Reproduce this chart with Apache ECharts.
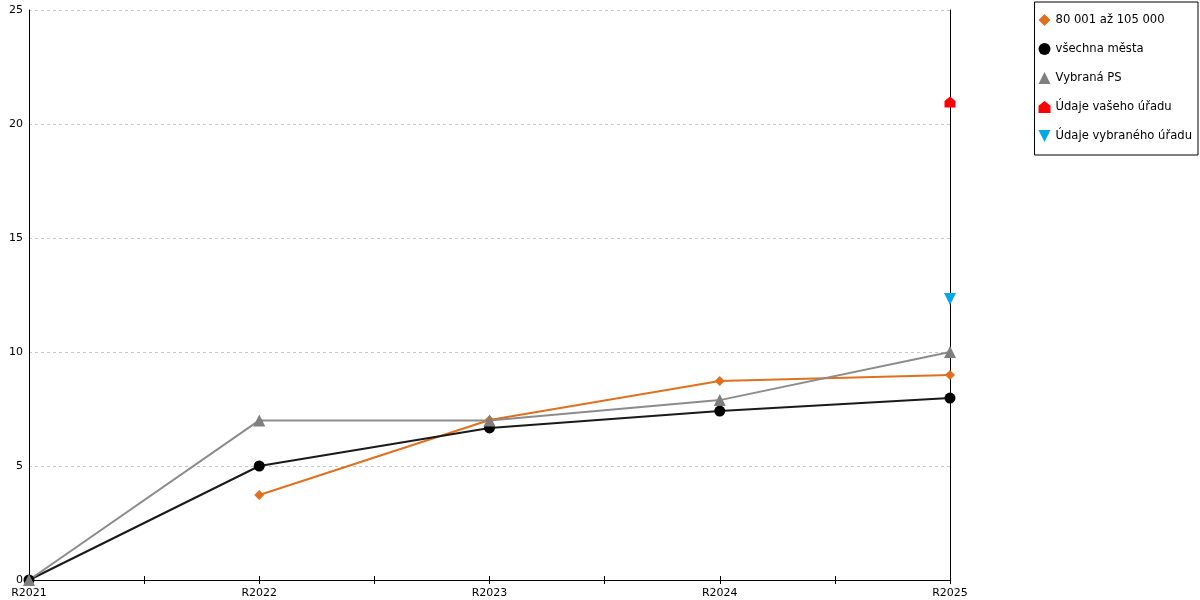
<!DOCTYPE html>
<html>
<head>
<meta charset="utf-8">
<script src="https://cdn.jsdelivr.net/npm/echarts@6/dist/echarts.min.js"></script>
<style>html,body{margin:0;padding:0;background:#fff}#c{width:1200px;height:600px}</style>
</head>
<body>
<div id="c"></div>
<script>
var categories = ['R2021', 'R2022', 'R2023', 'R2024', 'R2025'];
var yTicks = [0, 5, 10, 15, 20, 25];
var seriesNames = ['80 001 až 105 000', 'všechna města', 'Vybraná PS', 'Údaje vašeho úřadu', 'Údaje vybraného úřadu'];
var sizeGroup = [null, 3.73, 7.02, 8.73, 8.99];
var allCities = [0, 5.0, 6.67, 7.41, 7.98];
var selectedPS = [0, 7.0, 7.0, 7.89, 10.0];
var yourOffice = [null, null, null, null, 20.96];
var selectedOffice = [null, null, null, null, 12.32];

var housePath = 'path://M0,4 L5,0 L10,4 L10,10 L0,10 Z';
var font = 'DejaVu Sans';

function toPairs(arr) {
  return arr.map(function (v, i) { return [i, v]; });
}

var chart = echarts.init(document.getElementById('c'));
var colors = ['#e07020', '#000000', '#808080', '#ff0000', '#00a8e8'];
chart.setOption({
  animation: false,
  textStyle: { fontFamily: font },
  grid: { left: 29, right: 250, top: 10, bottom: 20, containLabel: false },
  legend: {
    orient: 'vertical',
    right: 2,
    top: 2,
    borderColor: '#000',
    borderWidth: 1,
    padding: [12, 6, 13, 4],
    itemGap: 17,
    itemWidth: 12,
    itemHeight: 12,
    textStyle: { fontFamily: font, fontSize: 11.6, color: '#000' },
    data: [
      { name: seriesNames[0], icon: 'diamond', itemStyle: { color: colors[0] } },
      { name: seriesNames[1], icon: 'circle', itemStyle: { color: colors[1] } },
      { name: seriesNames[2], icon: 'triangle', itemStyle: { color: colors[2] } },
      { name: seriesNames[3], icon: housePath, itemStyle: { color: colors[3] } },
      { name: seriesNames[4], icon: 'path://M0,0 L10,0 L5,10 Z', itemStyle: { color: colors[4] } }
    ]
  },
  xAxis: [{
    type: 'value',
    min: 0,
    max: categories.length - 1,
    interval: 0.5,
    axisLine: { onZero: false, lineStyle: { color: '#000', width: 1 } },
    axisTick: { show: true, length: 4, lineStyle: { color: '#000' } },
    splitLine: { show: false },
    axisLabel: {
      margin: 8,
      fontSize: 11,
      color: '#000',
      fontFamily: font,
      formatter: function (v) { return Number.isInteger(v) ? categories[v] : ''; }
    }
  }, {
    type: 'value',
    position: 'top',
    offset: -570,
    min: 0,
    max: categories.length - 1,
    interval: 0.5,
    axisLine: { show: false, onZero: false },
    axisTick: { show: true, length: 4, lineStyle: { color: '#000' } },
    splitLine: { show: false },
    axisLabel: { show: false }
  }],
  yAxis: [{
    type: 'value',
    min: yTicks[0],
    max: yTicks[yTicks.length - 1],
    interval: 5,
    axisLine: { show: true, onZero: false, lineStyle: { color: '#000' } },
    axisTick: { show: false },
    axisLabel: { fontSize: 11, color: '#000', margin: 6, fontFamily: font },
    splitLine: { show: true, lineStyle: { color: '#c8c8c8', type: [3, 3] } }
  }, {
    type: 'value',
    position: 'right',
    min: yTicks[0],
    max: yTicks[yTicks.length - 1],
    interval: 5,
    axisLine: { show: true, onZero: false, lineStyle: { color: '#000' } },
    axisTick: { show: false },
    axisLabel: { show: false },
    splitLine: { show: false }
  }],
  series: [{
    name: seriesNames[0], type: 'line', data: toPairs(sizeGroup),
    symbol: 'diamond', symbolSize: 10, showAllSymbol: true,
    itemStyle: { color: colors[0] }, lineStyle: { color: colors[0], width: 2 }
  }, {
    name: seriesNames[1], type: 'line', data: toPairs(allCities),
    symbol: 'circle', symbolSize: 11,
    itemStyle: { color: colors[1] }, lineStyle: { color: '#1a1a1a', width: 2 }
  }, {
    name: seriesNames[2], type: 'line', data: toPairs(selectedPS),
    symbol: 'triangle', symbolSize: 12,
    itemStyle: { color: '#7f7f7f' }, lineStyle: { color: '#8c8c8c', width: 2 }
  }, {
    name: seriesNames[3], type: 'line', data: toPairs(yourOffice),
    symbol: housePath, symbolSize: 11,
    itemStyle: { color: colors[3] }, lineStyle: { width: 0 }
  }, {
    name: seriesNames[4], type: 'line', data: toPairs(selectedOffice),
    symbol: 'triangle', symbolRotate: 180, symbolSize: 12,
    itemStyle: { color: colors[4] }, lineStyle: { width: 0 }
  }]
});
</script>
</body>
</html>
